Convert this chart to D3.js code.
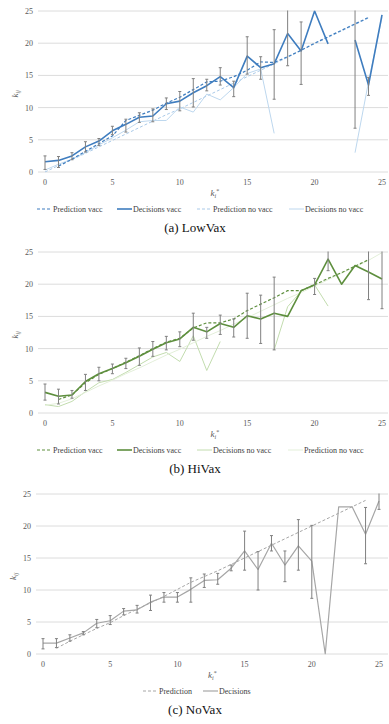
<!DOCTYPE html>
<html>
<head>
<meta charset="utf-8">
<script src="https://cdn.jsdelivr.net/npm/d3@7"></script>
<style>
  body { margin: 0; background: #fff; }
  svg { display: block; font-family: "Liberation Serif", "DejaVu Serif", serif; }
</style>
</head>
<body>
<svg id="chart" width="389" height="724"></svg>
<script>
// k_i* values on the x axis
const kValues = d3.range(0, 26);
const yTicks = [0, 5, 10, 15, 20, 25];
const xTicks = [0, 5, 10, 15, 20, 25];

// (a) LowVax
const lowPredVacc = [null, 0.9, 2.0, 3.2, 4.4, 5.6, 8.0, 8.8, 9.6, 10.7, 11.6, 12.8, 14.0, 14.1, 14.8, 15.8, 17.1, 17.0, 17.9, 18.9, 20.0, 21.0, 22.0, 23.0, 24.0, null];
const lowDecVacc = [1.6, 1.8, 2.5, 3.9, 4.8, 6.4, 7.4, 8.5, 8.7, 10.6, 11.0, 12.3, 13.4, 14.8, 13.1, 18.0, 16.2, 16.8, 21.5, 18.8, 25.0, 19.9, null, 20.5, 13.5, 24.4];
const lowErrLo = [0.4, 0.7, 1.9, 3.1, 4.1, 5.8, 6.2, 7.7, 7.8, 9.7, 9.5, 10.1, 12.6, 13.5, 11.7, 15.2, 14.4, 11.3, 16.5, 13.6, null, null, null, 6.8, 11.9, null];
const lowErrHi = [2.5, 2.4, 3.0, 4.7, 5.2, 7.1, 8.2, 9.2, 9.8, 11.5, 12.5, 14.5, 14.4, 16.2, 14.1, 21.0, 17.9, 22.1, 26.0, 23.3, null, null, null, 26.0, 14.7, null];
const lowPredNoVacc = [0.0, 1.0, 1.9, 2.9, 3.9, 4.9, 5.9, 6.9, 7.9, 8.9, 9.8, 10.8, 11.8, 12.8, 13.8, 14.8, 15.8, 16.8, 17.8, 18.9, 19.9, 20.9, 21.9, 22.9, 23.9, null];
const lowDecNoVacc = [0.3, 1.2, 2.0, 3.0, 4.2, 5.3, 6.5, 7.8, 8.0, 8.0, 10.1, 9.3, 12.1, 11.2, 13.1, 15.3, 16.0, 6.0, null, null, null, null, null, 3.0, 14.0, 24.0];

// (b) HiVax
const hiPredVacc = [null, 2.1, 2.8, 4.7, 6.0, 6.9, 7.9, 8.9, 10.0, 11.0, 11.6, 13.2, 14.0, 14.0, 14.6, 15.9, 16.9, 17.9, 19.0, 19.0, 19.9, 20.9, 21.8, 22.8, 23.8, null];
const hiDecVacc = [3.2, 2.6, 2.8, 4.9, 6.1, 6.9, 7.8, 8.8, 9.9, 10.9, 11.5, 13.3, 12.6, 13.9, 13.3, 15.1, 14.6, 15.5, 15.0, 19.0, 19.9, 23.9, 20.0, 22.9, 21.9, 20.8];
const hiErrLo = [2.0, 1.4, 2.3, 3.5, 5.0, 6.1, 6.9, 7.4, 8.8, 9.8, 10.3, 11.3, 11.6, 12.2, 11.8, 11.6, 10.8, 9.8, null, null, 18.4, 22.1, null, null, 17.6, 16.2];
const hiErrHi = [4.5, 3.7, 3.5, 6.0, 7.1, 7.6, 8.5, 10.1, 11.1, 11.9, 12.6, 15.5, 13.3, 15.2, 14.6, 18.6, 18.3, 21.1, null, null, 20.9, 26.0, null, null, 26.0, 26.0];
const hiDecNoVacc = [1.3, 1.0, 1.8, 3.3, 4.7, 5.2, 6.3, 7.5, 8.7, 9.4, 8.0, 12.0, 6.6, 11.1, null, null, null, 9.8, 16.5, 18.9, 19.9, 16.6, null, null, null, null];
const hiPredNoVacc = [1.2, 1.5, 2.2, 3.2, 4.2, 5.1, 6.1, 7.0, 8.0, 9.0, 9.9, 10.9, 11.9, 12.8, 13.8, 14.8, 15.8, 16.8, 17.8, 18.7, 19.7, 20.7, 21.7, 22.7, 23.7, 24.9];

// (c) NoVax
const noPred = [null, 0.9, 2.0, 3.0, 4.0, 4.9, 6.0, 7.0, 8.0, 9.0, 10.1, 11.2, 12.1, 13.0, 14.0, 15.0, 16.0, 17.0, 18.0, 19.0, 20.0, 21.0, 22.0, 23.0, 24.0, null];
const noDec = [1.7, 1.7, 2.5, 3.3, 4.8, 5.2, 6.7, 6.9, 8.1, 8.9, 8.9, 10.1, 11.5, 11.6, 13.4, 16.1, 13.2, 17.3, 13.9, 16.9, 14.5, 0.0, 23.0, 23.0, 18.7, 23.9];
const noErrLo = [0.8, 1.0, 2.0, 3.0, 4.1, 4.6, 6.1, 6.4, 6.8, 8.1, 8.1, 8.1, 10.4, 10.9, 13.0, 13.1, 10.0, 16.1, 11.3, 13.1, 8.7, null, null, null, 14.1, 22.6];
const noErrHi = [2.4, 2.4, 3.0, 3.5, 5.4, 6.0, 7.1, 7.6, 9.2, 9.6, 9.6, 11.9, 12.5, 12.6, 13.9, 19.2, 16.0, 18.5, 16.1, 21.0, 20.1, null, null, null, 22.9, 26.0];

const svg = d3.select('#chart');

const panels = [
  {
    id: 'a', caption: '(a) LowVax', top: 11, bottom: 172, left: 45, right: 382,
    series: [
      { name: 'Prediction vacc', values: lowPredVacc, color: '#3f7dbf', width: 1.2, dash: '3,2' },
      { name: 'Decisions vacc', values: lowDecVacc, color: '#3f7dbf', width: 1.6, dash: null },
      { name: 'Prediction no vacc', values: lowPredNoVacc, color: '#a9c9e8', width: 1, dash: '3,2' },
      { name: 'Decisions no vacc', values: lowDecNoVacc, color: '#bdd7ee', width: 1, dash: null }
    ],
    errLo: lowErrLo, errHi: lowErrHi, errOn: lowDecVacc,
    legendX: [37, 117, 197, 289]
  },
  {
    id: 'b', caption: '(b) HiVax', top: 252, bottom: 413, left: 45, right: 382,
    series: [
      { name: 'Prediction vacc', values: hiPredVacc, color: '#5e8f3e', width: 1.2, dash: '3,2' },
      { name: 'Decisions vacc', values: hiDecVacc, color: '#5e8f3e', width: 1.6, dash: null },
      { name: 'Decisions no vacc', values: hiDecNoVacc, color: '#c2dcae', width: 1, dash: null },
      { name: 'Prediction no vacc', values: hiPredNoVacc, color: '#e3efd9', width: 1, dash: null }
    ],
    errLo: hiErrLo, errHi: hiErrHi, errOn: hiDecVacc,
    legendX: [37, 117, 197, 288]
  },
  {
    id: 'c', caption: '(c) NoVax', top: 494, bottom: 654, left: 43, right: 379,
    series: [
      { name: 'Prediction', values: noPred, color: '#a6a6a6', width: 1, dash: '3,2' },
      { name: 'Decisions', values: noDec, color: '#a6a6a6', width: 1.2, dash: null }
    ],
    errLo: noErrLo, errHi: noErrHi, errOn: noDec,
    legendX: [143, 203]
  }
];

panels.forEach(drawPanel);

function drawPanel(p) {
  const x = d3.scaleLinear().domain([0, 25]).range([p.left, p.right]);
  const y = d3.scaleLinear().domain([0, 25]).range([p.bottom, p.top]);
  const g = svg.append('g');

  // clip everything to the value range 0..25
  g.append('clipPath').attr('id', 'clip-' + p.id)
    .append('rect')
    .attr('x', 0).attr('width', 389)
    .attr('y', y(25) - 0.5).attr('height', y(0) - y(25) + 1);

  // horizontal grid
  g.append('g')
    .selectAll('line')
    .data(yTicks)
    .enter().append('line')
    .attr('x1', p.left - 7).attr('x2', 388)
    .attr('y1', d => y(d)).attr('y2', d => y(d))
    .attr('stroke', '#dcdcdc').attr('stroke-width', 1);

  // y tick labels
  g.append('g')
    .selectAll('text')
    .data(yTicks)
    .enter().append('text')
    .attr('x', p.left - 12).attr('y', d => y(d) + 3)
    .attr('text-anchor', 'end')
    .attr('font-size', 8).attr('fill', '#595959')
    .text(d => d);

  // x tick labels
  g.append('g')
    .selectAll('text')
    .data(xTicks)
    .enter().append('text')
    .attr('x', d => x(d)).attr('y', p.bottom + 13)
    .attr('text-anchor', 'middle')
    .attr('font-size', 8).attr('fill', '#595959')
    .text(d => d);

  // axis titles
  const yt = g.append('text')
    .attr('transform', `translate(${p.left - 27},${(p.top + p.bottom) / 2 + 6}) rotate(-90)`)
    .attr('font-size', 9).attr('fill', '#595959').attr('font-style', 'italic');
  yt.append('tspan').text('k');
  yt.append('tspan').attr('font-size', 6).attr('dy', 2).text('ij');

  const xt = g.append('text')
    .attr('x', (p.left + p.right) / 2 - 3).attr('y', p.bottom + 24)
    .attr('font-size', 9).attr('fill', '#595959').attr('font-style', 'italic');
  xt.append('tspan').text('k');
  xt.append('tspan').attr('font-size', 6).attr('dy', 2).text('i');
  xt.append('tspan').attr('font-size', 6).attr('dy', -5).attr('font-style', 'normal').text('*');

  const plot = g.append('g').attr('clip-path', `url(#clip-${p.id})`);

  // lines, light series first so the dark ones sit on top
  const line = d3.line()
    .defined(d => d[1] != null)
    .x(d => x(d[0]))
    .y(d => y(d[1]));

  const order = p.series.slice().sort((a, b) => (a.width > 1.1) - (b.width > 1.1));
  order.forEach(s => {
    plot.append('path')
      .datum(kValues.map(k => [k, s.values[k]]))
      .attr('fill', 'none')
      .attr('stroke', s.color)
      .attr('stroke-width', s.width)
      .attr('stroke-dasharray', s.dash)
      .attr('stroke-linejoin', 'round')
      .attr('d', line);
  });

  // error bars
  const errs = kValues.filter(k => p.errLo[k] != null);
  const eb = plot.append('g').attr('stroke', '#808080').attr('stroke-width', 1);
  eb.selectAll('line.v').data(errs).enter().append('line')
    .attr('x1', k => x(k)).attr('x2', k => x(k))
    .attr('y1', k => y(p.errLo[k])).attr('y2', k => y(p.errHi[k]));
  eb.selectAll('line.lo').data(errs).enter().append('line')
    .attr('x1', k => x(k) - 1.5).attr('x2', k => x(k) + 1.5)
    .attr('y1', k => y(p.errLo[k])).attr('y2', k => y(p.errLo[k]));
  eb.selectAll('line.hi').data(errs).enter().append('line')
    .attr('x1', k => x(k) - 1.5).attr('x2', k => x(k) + 1.5)
    .attr('y1', k => y(p.errHi[k])).attr('y2', k => y(p.errHi[k]));

  // legend
  const ly = p.bottom + 37;
  const leg = g.append('g');
  p.series.forEach((s, i) => {
    const lx = p.legendX[i];
    leg.append('line')
      .attr('x1', lx).attr('x2', lx + 15)
      .attr('y1', ly).attr('y2', ly)
      .attr('stroke', s.color)
      .attr('stroke-width', s.width)
      .attr('stroke-dasharray', s.dash);
    leg.append('text')
      .attr('x', lx + 16).attr('y', ly + 3)
      .attr('font-size', 8).attr('fill', '#404040')
      .text(s.name);
  });

  // caption
  g.append('text')
    .attr('x', 195).attr('y', p.bottom + 60)
    .attr('text-anchor', 'middle')
    .attr('font-size', 13).attr('fill', '#111')
    .text(p.caption);
}
</script>
</body>
</html>
